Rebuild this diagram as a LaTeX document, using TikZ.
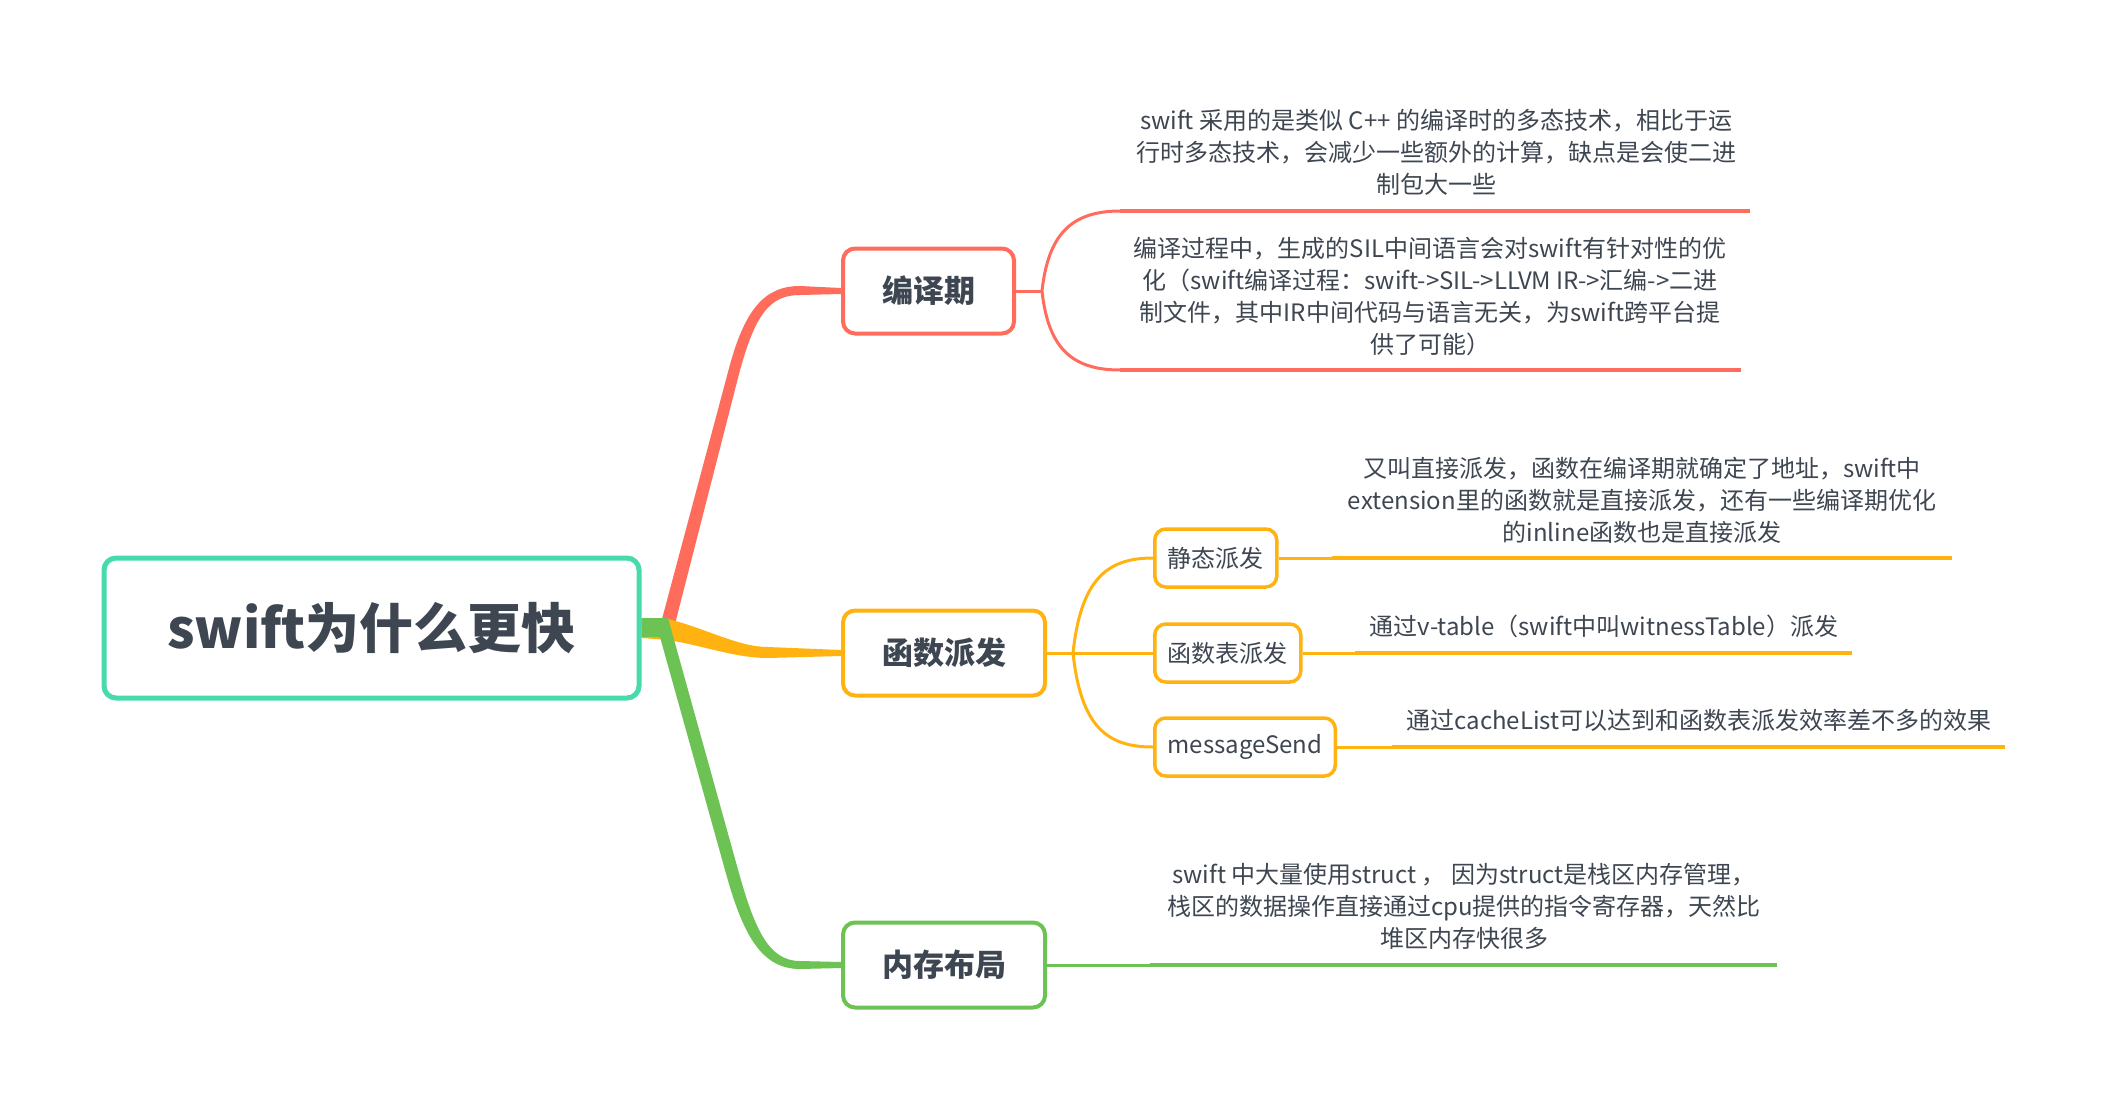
\documentclass[tikz,border=0pt]{standalone}
\usepackage{fontspec}
\setmainfont{Noto Sans CJK SC}
\usetikzlibrary{positioning,calc}
\definecolor{rootc}{RGB}{72,217,172}
\definecolor{redc}{RGB}{255,108,92}
\definecolor{yelc}{RGB}{255,178,16}
\definecolor{grnc}{RGB}{108,194,83}
\definecolor{inkc}{RGB}{62,70,81}

\begin{document}
\begin{tikzpicture}[
      x=1pt, y=-1pt,
      rootbox/.style={draw=rootc, line width=5pt, rounded corners=12pt, fill=white,
        minimum width=535pt, minimum height=140pt, text=inkc,
        font=\fontsize{54}{64}\selectfont\bfseries},
      topic/.style={draw, line width=4pt, rounded corners=12pt, fill=white, anchor=west,
        minimum height=85pt, inner xsep=39pt, text=inkc,
        font=\fontsize{31}{36}\selectfont\bfseries},
      subbox/.style={draw=yelc, line width=3.5pt, rounded corners=11pt, fill=white, anchor=west,
        minimum height=58pt, inner xsep=13pt, text=inkc,
        font=\fontsize{24}{30}\selectfont},
      note/.style={font=\fontsize{24}{32}\selectfont, text=inkc, align=center, inner sep=0pt},
      twig/.style={line width=3pt},
      leaf/.style={line width=4.5pt},
    ]
    \useasboundingbox (0,0) rectangle (2108,1110);

    % --- root and the three topics ---
    \node[rootbox] (root) at (371.5,628) {swift为什么更快};
    \node[topic, draw=redc] (comp) at (841,291) {编译期};
    \node[topic, draw=yelc] (disp) at (841,653) {函数派发};
    \node[topic, draw=grnc] (mem) at (841,965) {内存布局};

    % --- thick tapered branches ---
    \fill[redc] ($(root.east)+(0,-9)$) -- (662,619) -- (728,372)
      .. controls (744,310) and (764,286) .. (800,286)
      -- ($(comp.west)+(0,-3)$) -- ($(comp.west)+(0,3)$) -- (800,295)
      .. controls (770,295) and (755,314) .. (739,374)
      -- (675,624) -- ($(root.east)+(0,-1)$) -- cycle;
    \fill[yelc] ($(root.east)+(0,-8)$) -- (668,619)
      .. controls (705,628) and (738,647) .. (768,647)
      -- ($(disp.west)+(0,-3)$) -- ($(disp.west)+(0,3)$) -- (768,658)
      .. controls (735,658) and (705,646) .. (668,640)
      -- ($(root.east)+(0,10)$) -- cycle;
    \fill[grnc] ($(root.east)+(0,-10)$) -- (668,618) -- (737,866)
      .. controls (754,928) and (768,961) .. (800,961)
      -- ($(mem.west)+(0,-3)$) -- ($(mem.west)+(0,3)$) -- (800,969)
      .. controls (760,969) and (742,932) .. (725,870)
      -- (660,637) -- ($(root.east)+(0,9)$) -- cycle;

    % --- compile time ---
    \coordinate (cf) at ($(comp.east)+(26,0)$);
    \coordinate (c1a) at (1120,211); \coordinate (c1b) at (1750,211);
    \coordinate (c2a) at (1120,370); \coordinate (c2b) at (1741,370);
    \draw[redc, twig] (comp.east) -- (cf);
    \draw[redc, twig] (cf) .. controls +(6,-55) and +(-50,0) .. (c1a);
    \draw[redc, twig] (cf) .. controls +(6,55) and +(-50,0) .. (c2a);
    \draw[redc, leaf] (c1a) -- (c1b);
    \draw[redc, leaf] (c2a) -- (c2b);
    \node[note] (poly) at (1436,152)
      {swift 采用的是类似 C++ 的编译时的多态技术，相比于运\\行时多态技术，会减少一些额外的计算，缺点是会使二进\\制包大一些};
    \node[note] (sil) at (1430,296)
      {编译过程中，生成的SIL中间语言会对swift有针对性的优\\化（swift编译过程：swift->SIL->LLVM IR->汇编->二进\\制文件，其中IR中间代码与语言无关，为swift跨平台提\\供了可能）};

    % --- dispatch ---
    \node[subbox] (stat) at (1153,558) {静态派发};
    \node[subbox] (vtab) at (1153,653) {函数表派发};
    \node[subbox] (msg) at (1153,747) {messageSend};
    \coordinate (df) at ($(disp.east)+(26,0)$);
    \draw[yelc, twig] (disp.east) -- (df);
    \draw[yelc, twig] (df) .. controls +(8,-75) and +(-45,0) .. (stat.west);
    \draw[yelc, twig] (df) -- (vtab.west);
    \draw[yelc, twig] (df) .. controls +(8,75) and +(-45,0) .. (msg.west);
    \coordinate (s1) at (1332,558); \coordinate (s2) at (1952,558);
    \coordinate (v1) at (1355,653); \coordinate (v2) at (1852,653);
    \coordinate (m1) at (1392,747); \coordinate (m2) at (2005,747);
    \draw[yelc, twig] (stat.east) -- (s1); \draw[yelc, leaf] (s1) -- (s2);
    \draw[yelc, twig] (vtab.east) -- (v1); \draw[yelc, leaf] (v1) -- (v2);
    \draw[yelc, twig] (msg.east) -- (m1); \draw[yelc, leaf] (m1) -- (m2);
    \node[note] (direct) at (1642,500)
      {又叫直接派发，函数在编译期就确定了地址，swift中\\extension里的函数就是直接派发，还有一些编译期优化\\的inline函数也是直接派发};
    \node[note] (table) at (1604,626) {通过v-table（swift中叫witnessTable）派发};
    \node[note] (cache) at (1699,720) {通过cacheList可以达到和函数表派发效率差不多的效果};

    % --- memory layout ---
    \coordinate (k1) at (1150,965); \coordinate (k2) at (1777,965);
    \draw[grnc, twig] (mem.east) -- (k1); \draw[grnc, leaf] (k1) -- (k2);
    \node[note] (stack) at (1464,906)
      {swift 中大量使用struct ， 因为struct是栈区内存管理，\\栈区的数据操作直接通过cpu提供的指令寄存器，天然比\\堆区内存快很多};
  \end{tikzpicture}
\end{document}
